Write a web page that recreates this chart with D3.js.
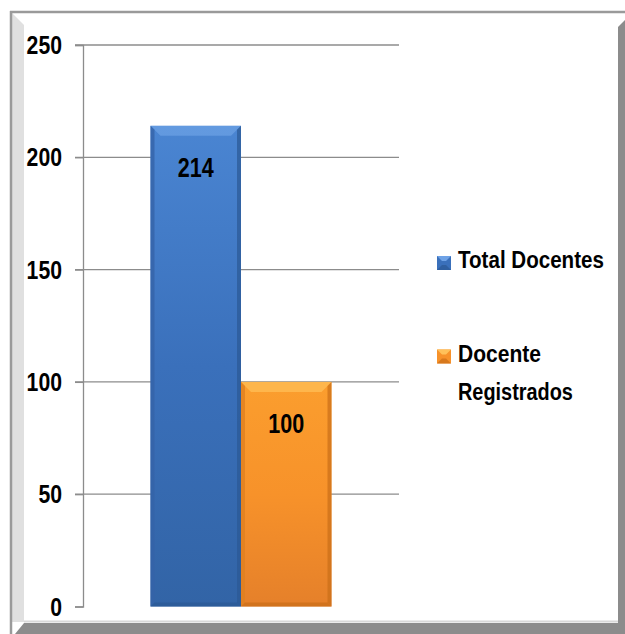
<!DOCTYPE html>
<html><head><meta charset="utf-8">
<script src="https://cdn.jsdelivr.net/npm/d3@7"></script>
<style>html,body{margin:0;padding:0;background:#fff;}svg{display:block;}</style>
</head><body>
<script>
const categories = ["Docentes"];
const seriesNames = ["Total Docentes", "Docente Registrados"];
const seriesValues = [214, 100];
const yTicks = [0, 50, 100, 150, 200, 250];

const W = 625, H = 634;
const svg = d3.select("body").append("svg").attr("width", W).attr("height", H);
const defs = svg.append("defs");
const FONT = "Liberation Sans, Arial, sans-serif";

// draws bold text at (x,y) horizontally squeezed to the given width
function fitText(parent, str, x, y, size, width, anchor) {
  const g = parent.append("g");
  const t = g.append("text").attr("font-family", FONT).attr("font-weight", "bold")
    .attr("font-size", size).attr("fill", "#000").text(str);
  const nat = t.node().getComputedTextLength();
  const s = width / nat;
  let x0 = x;
  if (anchor === "end") x0 = x - width;
  else if (anchor === "middle") x0 = x - width / 2;
  g.attr("transform", `translate(${x0},${y}) scale(${s},1)`);
  return g;
}

// frame
svg.append("rect").attr("x",0).attr("y",0).attr("width",W).attr("height",H).attr("fill","#fff");
svg.append("polygon").attr("points","12,13 24,25 24,622 12,622").attr("fill","#e0e0e0");
svg.append("polygon").attr("points","618,27 625,20 625,634 618,634").attr("fill","#8c8c8c");
svg.append("polygon").attr("points","24,623 625,623 625,634 15,634").attr("fill","#8c8c8c");
svg.append("line").attr("x1",24).attr("x2",618).attr("y1",621.5).attr("y2",621.5).attr("stroke","#d8d8d8").attr("stroke-width",2);
svg.append("line").attr("x1",10).attr("x2",625).attr("y1",12).attr("y2",12).attr("stroke","#9a9a9a").attr("stroke-width",2.5);
svg.append("line").attr("x1",11).attr("x2",11).attr("y1",11).attr("y2",634).attr("stroke","#9a9a9a").attr("stroke-width",2.5);

const x0 = d3.scaleBand().domain(categories).range([83, 399]).paddingInner(0).paddingOuter(0.373);
const x1 = d3.scaleBand().domain(seriesNames).range([0, x0.bandwidth()]).padding(0);
const y = d3.scaleLinear().domain([0, 250]).range([606.5, 45]);

// gridlines
svg.append("g").selectAll("line").data(yTicks.filter(d=>d>0)).join("line")
  .attr("x1",75).attr("x2",399).attr("y1",d=>y(d)).attr("y2",d=>y(d))
  .attr("stroke","#8c8c8c").attr("stroke-width",1.3);

// axis
const ax = svg.append("g").attr("transform","translate(83,0)")
  .call(d3.axisLeft(y).tickValues(yTicks).tickSize(8).tickFormat(""));
ax.select(".domain").attr("stroke","#8c8c8c").attr("stroke-width",1.3);
ax.selectAll(".tick line").attr("stroke","#8c8c8c").attr("stroke-width",1.3);

const tickG = svg.append("g");
yTicks.forEach(d => fitText(tickG, String(d), 62, y(d) + 9, 26, String(d).length * 11.8, "end"));

const palettes = [
  {top:"#4a85d2", main:"#3a70bb", bot:"#3264a6", light:"#6ea2e6", dark:"#2b5894", side:"#3463a8"},
  {top:"#fb9e2e", main:"#f7922a", bot:"#e5802a", light:"#ffc15a", dark:"#c96d18", side:"#e07f1f"}
];
palettes.forEach((p,i)=>{
  const g = defs.append("linearGradient").attr("id","g"+i).attr("x1",0).attr("x2",0).attr("y1",0).attr("y2",1);
  g.append("stop").attr("offset","0").attr("stop-color",p.top);
  g.append("stop").attr("offset","0.5").attr("stop-color",p.main);
  g.append("stop").attr("offset","1").attr("stop-color",p.bot);
});

const data = seriesNames.map((s,i)=>({s, v: seriesValues[i], i}));
const bars = svg.append("g").selectAll("g").data(data).join("g");
const bev = 10;
bars.each(function(d){
  const g = d3.select(this);
  const p = palettes[d.i];
  const bx = x0(categories[0]) + x1(d.s), bw = x1.bandwidth();
  const by = y(d.v), bb = y(0);
  g.append("rect").attr("x",bx).attr("y",by).attr("width",bw).attr("height",bb-by).attr("fill","url(#g"+d.i+")");
  g.append("polygon").attr("points",`${bx},${by} ${bx+bw},${by} ${bx+bw-bev},${by+bev} ${bx+bev},${by+bev}`).attr("fill",p.light).attr("opacity",0.7);
  g.append("polygon").attr("points",`${bx},${by} ${bx+4},${by+4} ${bx+4},${bb-4} ${bx},${bb}`).attr("fill",p.side).attr("opacity",0.8);
  g.append("polygon").attr("points",`${bx+bw},${by} ${bx+bw-4},${by+4} ${bx+bw-4},${bb-4} ${bx+bw},${bb}`).attr("fill",p.dark).attr("opacity",0.7);
  g.append("polygon").attr("points",`${bx},${bb} ${bx+4},${bb-4} ${bx+bw-4},${bb-4} ${bx+bw},${bb}`).attr("fill",p.dark).attr("opacity",0.7);
  fitText(g, String(d.v), bx + bw/2, by + 51, 27, 36, "middle");
});

// legend
const legY = [268, 361.5];
const leg = svg.append("g").selectAll("g").data(data).join("g");
leg.each(function(d){
  const g = d3.select(this);
  const p = palettes[d.i];
  const ly = legY[d.i];
  g.append("rect").attr("x",437).attr("y",ly-12).attr("width",14).attr("height",14).attr("fill",p.main);
  g.append("polygon").attr("points",`437,${ly-12} 451,${ly-12} 446,${ly-7} 442,${ly-7}`).attr("fill",p.light);
  g.append("polygon").attr("points",`437,${ly+2} 451,${ly+2} 446,${ly-3} 442,${ly-3}`).attr("fill",p.dark).attr("opacity",0.7);
});
const legT = svg.append("g");
fitText(legT, seriesNames[0], 458, 268, 24.5, 146, "start");
fitText(legT, "Docente", 458, 361.5, 24.5, 83, "start");
fitText(legT, "Registrados", 458, 400, 24.5, 115, "start");
</script>
</body></html>
